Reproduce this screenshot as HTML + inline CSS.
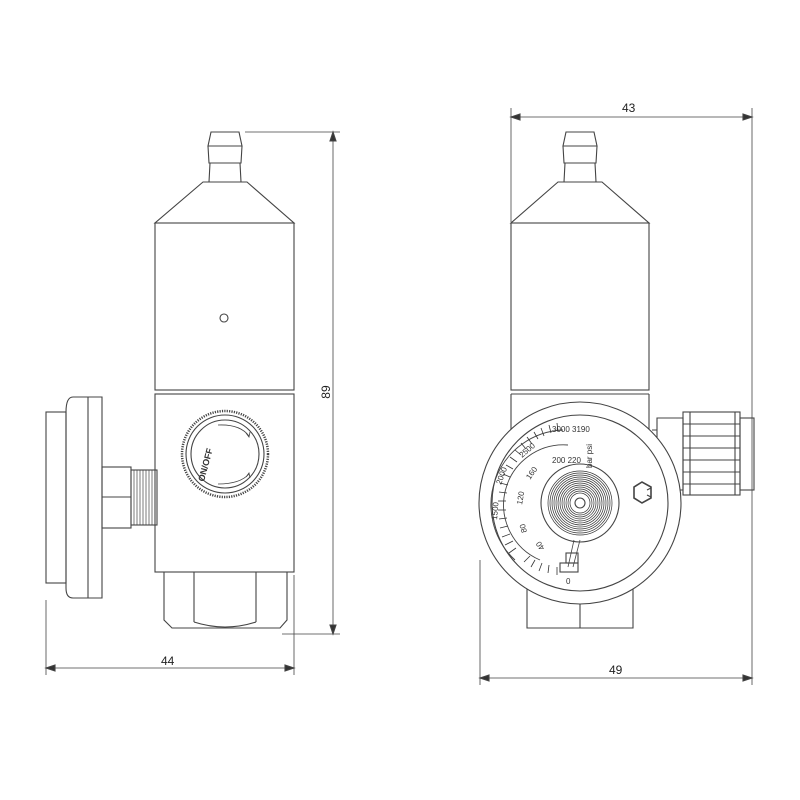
<!DOCTYPE html>
<html><head><style>body{margin:0;background:#fff}svg{display:block}</style></head><body>
<svg width="800" height="800" viewBox="0 0 800 800" xmlns="http://www.w3.org/2000/svg" font-family="Liberation Sans, sans-serif">
<rect width="800" height="800" fill="#fff"/>
<g fill="none" stroke="#444" stroke-width="1.1">
<!-- LEFT VIEW -->
<path d="M211 132 H239 L242 146 H208 Z M208 146 L209 163 H241 L242 146 M210 163 L209 182 M240 163 L241 182"/>
<path d="M203 182 H247 L294 223 H155 Z"/>
<rect x="155" y="223" width="139" height="167"/>
<line x1="155" y1="390" x2="294" y2="390"/>
<rect x="155" y="394" width="139" height="178"/>
<circle cx="224" cy="318" r="4"/>
<path d="M164 572 V620 L172 628 H280 L287 620 V572 M194 572 V622 M256 572 V622 M194 622 Q225 632 256 622"/>
<circle cx="225" cy="454" r="43" stroke-dasharray="1.2 1.2" stroke-width="2.5"/>
<circle cx="225" cy="454" r="39"/>
<circle cx="225" cy="454" r="34"/>
<path d="M218 425 Q240 424 249 436 M218 484 Q240 484 249 474" stroke-width="0.8"/>
<path d="M246 433 l3 4 l1 -5 M246 477 l3 -4 l1 5" stroke-width="0.8"/>
<path d="M73 397 H102 V598 H73 Q66 598 66 588 V412 Q66 397 73 397 Z M88 397 V598"/>
<rect x="46" y="412" width="20" height="171"/>
<rect x="102" y="467" width="29" height="61"/>
<line x1="102" y1="497" x2="131" y2="497"/>
<rect x="131" y="470" width="26" height="55"/>
<path d="M134 470 V525 M137 470 V525 M140 470 V525 M143 470 V525 M146 470 V525 M149 470 V525 M152 470 V525 M155 470 V525" stroke-width="0.7"/>
<!-- left dims -->
<path d="M245 132 H340 M282 634 H340 M333 132 V634 M46 600 V675 M294 575 V675 M46 668 H294" stroke-width="0.8"/>
<path d="M333 132 l-3 9 h6 Z M333 634 l-3 -9 h6 Z M46 668 l9 -3 v6 Z M294 668 l-9 -3 v6 Z" fill="#333"/>

<!-- RIGHT VIEW -->
<path d="M566 132 H594 L597 146 H563 Z M563 146 L564 163 H596 L597 146 M565 163 L564 182 M595 163 L596 182"/>
<path d="M558 182 H602 L649 223 H511 Z"/>
<rect x="511" y="223" width="138" height="167"/>
<line x1="511" y1="390" x2="649" y2="390"/>
<path d="M511 394 H649 M511 394 V572 M649 394 V572"/>
<path d="M527 572 V628 H633 V572 M580 590 V628"/>
<path d="M657 418 H683 V490 H657 Z M652 430 H657"/>
<rect x="683" y="412" width="57" height="83"/>
<path d="M690 412 V495 M735 412 V495 M683 424 H740 M683 436 H740 M683 448 H740 M683 460 H740 M683 472 H740 M683 484 H740"/>
<rect x="740" y="418" width="14" height="72"/>
<circle cx="580" cy="503" r="101" fill="#fff"/>
<circle cx="580" cy="503" r="88"/>
<circle cx="580" cy="503" r="39"/>
<g stroke-width="0.7" stroke="#333">
<circle cx="580" cy="503" r="32"/><circle cx="580" cy="503" r="30"/><circle cx="580" cy="503" r="28"/><circle cx="580" cy="503" r="26"/><circle cx="580" cy="503" r="24"/><circle cx="580" cy="503" r="22"/><circle cx="580" cy="503" r="20"/><circle cx="580" cy="503" r="18"/><circle cx="580" cy="503" r="16"/><circle cx="580" cy="503" r="14"/><circle cx="580" cy="503" r="12"/><circle cx="580" cy="503" r="10"/>
</g>
<circle cx="580" cy="503" r="5" fill="#fff"/>
<path d="M515 560 A 75 75 0 0 1 563 430 M540 560 A 60 60 0 0 1 568 445" stroke-width="0.9"/>
<path d="M574 540 L568 567 M580 540 L573 567" stroke-width="0.8"/>
<rect x="560" y="563" width="18" height="9"/><rect x="566" y="553" width="12" height="10"/>
<path d="M634 487 l8 -5 l9 5 v11 l-9 5 l-8 -5 Z" stroke-width="1.6"/>
<path d="M647 490 l4 -2 M647 495 l4 2" stroke-width="1.2"/>
<!-- right dims -->
<path d="M511 108 V222 M752 108 V685 M511 117 H752 M480 560 V685 M480 678 H752" stroke-width="0.8"/>
<path d="M511 117 l9 -3 v6 Z M752 117 l-9 -3 v6 Z M480 678 l9 -3 v6 Z M752 678 l-9 -3 v6 Z" fill="#333"/>
</g>
<g stroke="#333" stroke-width="0.8">
<line x1="509" y1="553" x2="516" y2="548"/><line x1="505" y1="545" x2="513" y2="541"/><line x1="502" y1="537" x2="510" y2="534"/><line x1="500" y1="528" x2="508" y2="526"/><line x1="499" y1="519" x2="507" y2="518"/><line x1="498" y1="510" x2="506" y2="510"/><line x1="498" y1="501" x2="506" y2="501"/><line x1="499" y1="492" x2="507" y2="493"/><line x1="500" y1="483" x2="508" y2="485"/><line x1="503" y1="474" x2="510" y2="477"/><line x1="506" y1="465" x2="513" y2="469"/><line x1="510" y1="457" x2="517" y2="462"/><line x1="515" y1="450" x2="521" y2="455"/><line x1="521" y1="443" x2="526" y2="449"/><line x1="527" y1="437" x2="532" y2="444"/><line x1="534" y1="432" x2="538" y2="439"/><line x1="541" y1="428" x2="544" y2="436"/><line x1="549" y1="425" x2="551" y2="433"/><line x1="557" y1="423" x2="558" y2="431"/>
<line x1="524" y1="562" x2="530" y2="556"/><line x1="531" y1="567" x2="535" y2="560"/><line x1="539" y1="571" x2="542" y2="563"/><line x1="548" y1="573" x2="549" y2="565"/><line x1="557" y1="575" x2="557" y2="567"/>
</g>
<g font-size="8" fill="#333">
<text x="552" y="432" font-size="8">3000 3190</text>
<text x="552" y="463">200 220</text>
<text x="522" y="458" transform="rotate(-40 522 458)">2500</text>
<text x="501" y="485" transform="rotate(-70 501 485)">2000</text>
<text x="497" y="520" transform="rotate(-85 497 520)">1500</text>
<text x="530" y="480" transform="rotate(-55 530 480)">160</text>
<text x="522" y="505" transform="rotate(-80 522 505)">120</text>
<text x="527" y="532" transform="rotate(-105 527 532)">80</text>
<text x="545" y="548" transform="rotate(-125 545 548)">40</text>
<text x="566" y="584">0</text>
<text x="592" y="468" transform="rotate(-90 592 468)">bar psi</text>
</g>
<g font-size="9" fill="#333" font-weight="bold">
<text x="204" y="482" transform="rotate(-75 204 482)">ON/OFF</text>
</g>
<g font-size="12" fill="#222">
<text x="161" y="665">44</text>
<text x="609" y="674">49</text>
<text x="622" y="112">43</text>
<text x="330" y="392" transform="rotate(-90 330 392)" text-anchor="middle">89</text>
</g>
</svg>
</body></html>
